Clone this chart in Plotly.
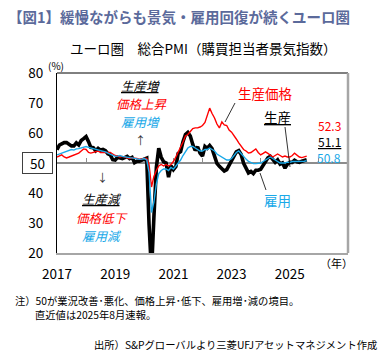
import pandas as pd
import plotly.graph_objects as go

FONT = "Noto Sans CJK JP"
BLUE = "#1aa9e8"
RED = "#ff0000"

# ---- data (monthly, Jan 2017 - Aug 2025) ----
months = pd.date_range("2017-01-01", periods=104, freq="MS")

output = [
    54.4, 56.0, 56.4, 56.8, 56.8, 56.3, 55.7, 55.7, 56.7, 56.0, 57.5, 58.1,
    58.8, 57.1, 55.2, 55.1, 54.1, 54.9, 54.3, 54.5, 54.1, 53.1, 52.7, 51.1,
    51.0, 51.9, 51.6, 51.5, 51.8, 52.2, 51.5, 51.9, 50.1, 50.6, 50.6, 50.9,
    51.3, 51.6, 29.7, 13.6, 31.9, 48.5, 54.9, 51.9, 50.4, 50.0, 45.3, 49.1,
    47.8, 48.8, 53.2, 53.8, 57.1, 59.5, 60.2, 59.0, 56.2, 54.2, 55.4, 53.3,
    52.3, 55.5, 54.9, 55.8, 54.8, 52.0, 49.9, 48.9, 48.1, 47.3, 47.8, 49.3,
    50.3, 52.0, 53.7, 54.1, 52.8, 49.9, 48.6, 46.7, 47.2, 46.5, 47.6, 47.6,
    47.9, 49.2, 50.3, 51.7, 52.2, 50.9, 50.2, 51.0, 49.6, 50.0, 48.3, 49.6,
    50.2, 50.2, 50.9, 50.4, 50.2, 50.6, 50.9, 51.1,
]

prices = [
    52.0, 52.5, 52.7, 52.0, 51.7, 52.0, 52.3, 52.5, 53.0, 53.3, 54.0, 54.7,
    54.5, 53.5, 53.3, 53.5, 53.7, 54.0, 53.5, 53.5, 53.3, 53.3, 53.5, 53.0,
    52.5, 52.3, 52.0, 52.2, 52.0, 51.8, 51.5, 51.7, 51.7, 51.5, 51.3, 51.5,
    51.5, 51.5, 49.5, 42.0, 45.5, 47.5, 49.0, 49.5, 49.0, 49.5, 49.0, 49.5,
    50.5, 52.0, 53.5, 55.5, 57.0, 59.0, 59.5, 60.5, 61.5, 61.7, 61.7, 62.0,
    62.5, 63.5, 66.0, 68.3, 66.5, 65.0, 63.0, 61.7, 63.7, 62.7, 62.5, 61.0,
    60.3, 59.3, 58.0, 56.7, 55.5, 54.5, 54.0, 53.3, 53.5, 54.0, 54.7, 53.5,
    52.7, 53.2, 53.7, 53.2, 52.5, 52.0, 52.5, 53.0, 52.5, 52.0, 52.3, 52.0,
    52.0, 52.5, 53.3, 52.5, 52.0, 51.8, 52.0, 52.3,
]

employment = [
    52.7, 53.0, 53.5, 53.7, 54.0, 54.3, 54.5, 54.3, 54.7, 54.8, 55.0, 55.3,
    55.5, 55.2, 55.0, 54.8, 54.5, 54.5, 54.3, 54.0, 53.7, 53.3, 53.0, 52.5,
    52.2, 52.3, 52.5, 52.2, 52.0, 51.8, 51.8, 51.7, 51.5, 51.3, 51.2, 51.3,
    51.5, 51.0, 47.0, 33.5, 37.0, 43.0, 46.5, 47.5, 48.0, 48.0, 47.5, 48.5,
    48.0, 49.0, 50.0, 51.0, 52.5, 54.0, 55.0, 55.5, 55.5, 55.0, 54.5, 54.0,
    54.0, 54.5, 54.5, 55.0, 54.5, 54.0, 53.0, 52.5, 52.0, 51.5, 51.0, 51.0,
    51.5, 52.5, 53.5, 54.0, 53.0, 52.0, 51.3, 50.5, 50.0, 49.8, 49.8, 50.0,
    50.0, 50.5, 51.0, 51.5, 52.0, 51.5, 51.0, 50.5, 50.0, 50.0, 50.0, 50.3,
    50.2, 50.5, 50.5, 50.5, 50.5, 50.5, 50.6, 50.8,
]

y_ticks = [20, 30, 40, 60, 70, 80]
x_tick_years = [2017, 2019, 2021, 2023, 2025]

# ---- geometry helpers (pixel -> paper) ----
W, H = 392, 354
L, R, T, B = 57, 348, 73, 253


def px(x):
    return (x - L) / (R - L)


def py(y):
    return (B - y) / (B - T)


fig = go.Figure()
fig.add_trace(go.Scatter(x=months, y=output, mode="lines", xaxis="x2",
                         line=dict(color="black", width=3.6), showlegend=False))
fig.add_trace(go.Scatter(x=months, y=prices, mode="lines", xaxis="x2",
                         line=dict(color=RED, width=1.4), showlegend=False))
fig.add_trace(go.Scatter(x=months, y=employment, mode="lines", xaxis="x2",
                         line=dict(color=BLUE, width=1.4), showlegend=False))
# dummy trace to keep the main x axis alive
fig.add_trace(go.Scatter(x=[months[0]], y=[None], mode="lines", showlegend=False,
                         hoverinfo="skip"))

xr = ["2017-01-01", "2027-01-01"]
fig.update_layout(
    width=W, height=H,
    margin=dict(l=L, r=W - R, t=T, b=H - B),
    paper_bgcolor="white", plot_bgcolor="white",
    font=dict(family=FONT, color="black"),
    xaxis=dict(
        type="date", range=xr,
        tickvals=[f"{y}-01-01" for y in x_tick_years],
        ticktext=[str(y) for y in x_tick_years],
        showgrid=False, zeroline=False, ticks="",
        showline=True, linecolor="#a6a6a6", linewidth=2,
        tickfont=dict(size=13.5, family=FONT),
        ticklabelstandoff=8,
    ),
    xaxis2=dict(
        type="date", range=xr, overlaying="x", matches="x",
        anchor="free", position=0.5,
        showline=True, linecolor="#8c8c8c", linewidth=1.5,
        ticks="inside", ticklen=4, tickwidth=1, tickcolor="#8c8c8c",
        tick0="2017-01-01", dtick="M12",
        showticklabels=False, showgrid=False, zeroline=False,
        layer="below traces",
    ),
    yaxis=dict(
        range=[20, 80], tickvals=y_ticks,
        showgrid=False, zeroline=False, ticks="",
        showline=True, linecolor="black", linewidth=1,
        tickfont=dict(size=13.5, family=FONT),
        ticklabelstandoff=10,
    ),
)

# plot frame: top (black) and right (gray)
fig.add_shape(type="line", xref="paper", yref="paper", x0=0, x1=1, y0=1, y1=1,
              line=dict(color="black", width=1))
fig.add_shape(type="line", xref="paper", yref="paper", x0=1, x1=1, y0=0, y1=1,
              line=dict(color="#a6a6a6", width=2.5))

ann = []


def add_text(text, x, y, size, color="black", xanchor="center", yanchor="middle"):
    ann.append(dict(text=text, x=px(x), y=py(y), xref="paper", yref="paper",
                    showarrow=False, xanchor=xanchor, yanchor=yanchor,
                    font=dict(size=size, color=color, family=FONT)))


# titles
add_text("<b>【図1】緩慢ながらも景気・雇用回復が続くユーロ圏</b>", 6, 16, 14.5,
         "#5b6a9b", xanchor="left")
add_text("ユーロ圏　総合PMI（購買担当者景気指数）", 203, 48, 13.5)
add_text("(%)", 56, 66, 10)
add_text("（年）", 336, 263, 11)

# boxed 50 label
ann.append(dict(text="50", x=px(37), y=50, xref="paper", yref="y",
                showarrow=False, xanchor="center", yanchor="middle",
                width=29, height=20, borderpad=0, bordercolor="#404040",
                borderwidth=1, font=dict(size=13.5, family=FONT, color="black")))

# legend-like guides
add_text("<i><u>生産増</u></i>", 140, 85, 12.5, "black")
add_text("<i>価格上昇</i>", 142, 103, 12.5, RED)
add_text("<i>雇用増</i>", 140, 121, 12.5, BLUE)
add_text("↑", 140, 140, 11, "#333333")
add_text("↓", 102, 177, 11, "#333333")
add_text("<i><u>生産減</u></i>", 102, 198, 12.5, "black")
add_text("<i>価格低下</i>", 102, 217, 12.5, RED)
add_text("<i>雇用減</i>", 102, 235, 12.5, BLUE)

# series labels
add_text("生産価格", 265, 93, 13.5, RED)
add_text("<u>生産</u>", 277, 117, 13.5, "black")
add_text("雇用", 277, 200, 13.5, BLUE)

# latest values
add_text("52.3", 329, 125, 12, RED)
add_text("<u>51.1</u>", 329, 141, 12, "black")
add_text("50.8", 329, 157.5, 12, BLUE)

# notes
add_text("注）50が業況改善･悪化、価格上昇･低下、雇用増･減の境目。", 13, 300, 10.3,
         "black", xanchor="left")
add_text("直近値は2025年8月速報。", 33, 314, 10.3, "black", xanchor="left")
add_text("出所）S&Pグローバルより三菱UFJアセットマネジメント作成", 379, 344, 10.3,
         "black", xanchor="right")

fig.update_layout(annotations=ann)

# leader lines
for (x0, y0, x1, y1) in [(235, 103, 225, 122), (285, 127, 290, 167), (260, 173, 266, 190)]:
    fig.add_shape(type="line", xref="paper", yref="paper",
                  x0=px(x0), y0=py(y0), x1=px(x1), y1=py(y1),
                  line=dict(color="black", width=0.8))

fig.write_html("out.html")
